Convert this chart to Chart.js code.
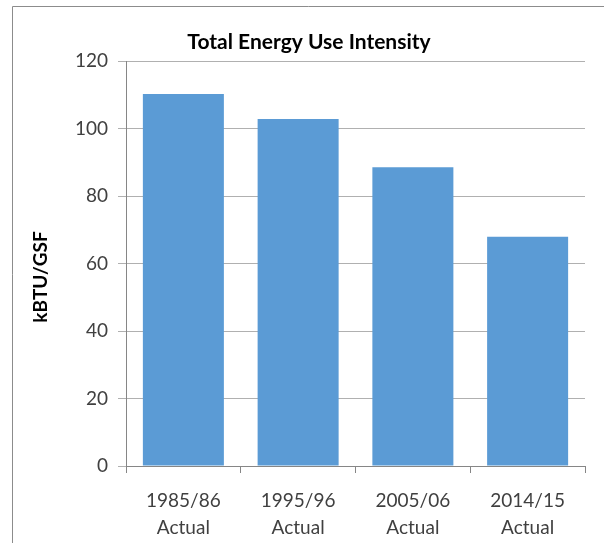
<!DOCTYPE html>
<html>
<head>
<meta charset="utf-8">
<script src="https://cdn.jsdelivr.net/npm/chart.js@4/dist/chart.umd.min.js"></script>
<style>
  html, body { margin: 0; padding: 0; background: #fff; }
  #wrap { position: relative; width: 604px; height: 543px; }
</style>
</head>
<body>
<div id="wrap"><canvas id="chart" width="604" height="543"></canvas></div>
<script>
// ==============================
// DATA
// ==============================
const categories = [
    ["1985/86", "Actual"],
    ["1995/96", "Actual"],
    ["2005/06", "Actual"],
    ["2014/15", "Actual"]
];
const euiValues = [110.2, 102.8, 88.5, 67.9];
const yMin = 0;
const yMax = 120;
const yStep = 20;
const chartTitle = "Total Energy Use Intensity";
const yAxisTitle = "kBTU/GSF";

const FONT = "Lato, 'Open Sans', sans-serif";

// frame + titles drawn by hand so they sit where Excel put them
const decorPlugin = {
    id: "decor",
    beforeDraw(chart) {
        const ctx = chart.ctx;
        ctx.save();
        ctx.strokeStyle = "#8c8c8c";
        ctx.lineWidth = 1;
        ctx.beginPath();
        ctx.moveTo(12.5, 543);
        ctx.lineTo(12.5, 6.5);
        ctx.lineTo(604, 6.5);
        ctx.stroke();
        ctx.restore();
    },
    afterDraw(chart) {
        const ctx = chart.ctx;
        ctx.save();
        ctx.fillStyle = "#000";
        ctx.textAlign = "center";
        ctx.textBaseline = "middle";
        ctx.font = "bold 21px " + FONT;
        ctx.fillText(chartTitle, 309, 42);

        ctx.translate(41, 277);
        ctx.rotate(-Math.PI / 2);
        ctx.font = "bold 19px " + FONT;
        ctx.fillText(yAxisTitle, 0, 0);
        ctx.restore();
    }
};

new Chart(document.getElementById("chart"), {
    type: "bar",
    data: {
        labels: categories,
        datasets: [{
            label: chartTitle,
            data: euiValues,
            backgroundColor: "#5b9bd5",
            borderWidth: 0,
            categoryPercentage: 1.0,
            barPercentage: 0.706
        }]
    },
    options: {
        responsive: false,
        animation: false,
        devicePixelRatio: 1,
        layout: { padding: { left: 0, right: 19, top: 61, bottom: 0 } },
        plugins: {
            legend: { display: false },
            title: { display: false },
            tooltip: { enabled: false }
        },
        scales: {
            x: {
                grid: {
                    offset: true,
                    drawOnChartArea: false,
                    drawTicks: true,
                    tickLength: 7,
                    color: "#868686"
                },
                border: { display: true, color: "#868686", width: 1 },
                ticks: {
                    color: "#404040",
                    font: { family: FONT, size: 19, lineHeight: 1.42 },
                    padding: 14,
                    maxRotation: 0,
                    autoSkip: false
                },
                afterFit(s) { s.height = 77; }
            },
            y: {
                min: yMin,
                max: yMax,
                grid: {
                    color: "#b0b0b0",
                    lineWidth: 1,
                    drawTicks: true,
                    tickLength: 8
                },
                border: { display: true, color: "#868686", width: 1 },
                ticks: {
                    stepSize: yStep,
                    color: "#404040",
                    font: { family: FONT, size: 19 },
                    padding: 10
                },
                afterFit(s) { s.width = 126; }
            }
        }
    },
    plugins: [decorPlugin]
});
</script>
</body>
</html>
